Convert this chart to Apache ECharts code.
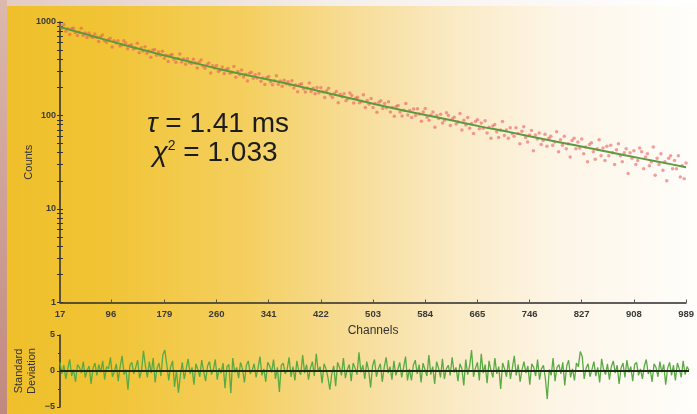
<!DOCTYPE html>
<html><head><meta charset="utf-8">
<style>html,body{margin:0;padding:0;background:#fff;}#c{width:697px;height:414px;}</style>
<script src="https://cdn.jsdelivr.net/npm/echarts@6.0.0/dist/echarts.min.js"></script>
</head><body><div id="c"></div>
<script>
// ---- data ----
const startChannel = 17;
const channelStep = 3;
const counts = [
927,857,940,794,849,734,846,859,771,719,779,856,718,762,681,763,706,
683,744,687,619,695,727,636,606,645,670,540,629,598,631,553,567,630,
598,518,562,572,514,526,593,468,529,491,542,462,491,421,499,509,442,
478,442,486,410,440,378,440,449,400,371,408,454,373,401,354,405,372,
359,399,364,323,372,393,339,321,347,364,284,340,322,343,296,306,
331,282,311,318,283,291,334,257,296,273,307,258,277,234,283,291,250,
273,252,280,233,252,215,254,261,230,213,236,266,216,234,205,238,218,
230,212,235,197,212,180,213,218,193,178,197,222,181,196,171,199,
175,198,179,156,184,196,166,156,171,181,137,169,159,171,144,151,174,
164,136,153,157,137,142,167,122,145,132,152,122,134,108,139,144,119,
134,121,140,109,122,98,125,128,109,99,114,134,101,113,95,117,
100,118,104,87,109,119,96,89,101,109,75,100,93,103,83,89,107,
100,78,92,96,81,85,105,70,89,79,95,73,82,64,86,90,72,
83,73,88,65,75,57,77,80,67,58,70,86,61,70,57,74,64,
60,74,64,50,68,76,58,52,62,69,42,62,56,65,49,54,
63,47,57,60,48,52,67,41,55,48,60,44,50,36,54,57,44,
52,45,56,39,46,32,49,51,41,34,44,55,37,45,33,47,
37,48,40,30,43,50,37,32,40,44,24,40,35,42,30,33,45,
41,27,36,39,29,32,46,23,35,30,39,26,32,20,35,37,27,
33,27,37,22,29,21,31
];
const fitChannels = [17,67,117,167,217,267,317,367,417,467,517,567,617,667,717,767,817,867,917,967,989];
const fitCounts   = [885,708,567,461,378,311,262,221,184,153,127,107,91,77,66,56,48,41,35,30,28];
const residuals = [
1.2,-0.4,0.8,-1.1,0.3,1.6,-0.7,0.2,-1.5,0.9,0.5,-0.3,1.3,-0.9,0.1,0.7,-1.8,0.4,1.1,-0.6,0.9,-0.2,1.4,-1.2,0.6,
0.3,1.9,-0.8,-0.1,1.0,-1.4,0.6,2.1,-0.5,0.2,-2.6,0.8,1.2,-0.4,0.5,1.5,-1.0,0.0,2.8,0.7,-0.9,1.3,-0.3,1.8,-1.6,
0.4,1.1,-0.7,2.3,2.9,0.9,-1.3,0.6,1.4,-2.2,0.1,-3.0,-0.6,1.2,-1.1,0.3,1.7,-0.4,0.5,-1.9,1.0,0.2,-0.8,1.5,-0.1,
-1.4,0.7,1.3,-0.5,0.2,1.6,-1.2,0.4,-0.3,1.1,-2.4,0.6,0.9,-3.1,1.8,-0.2,0.5,-1.0,1.2,0.3,-1.6,0.8,1.4,-0.4,0.1,
1.0,-0.9,0.4,2.0,-0.6,0.3,-1.5,1.2,0.7,-0.2,1.6,-1.1,0.5,-2.9,0.8,1.1,-0.4,0.2,1.9,-0.8,0.6,-1.3,1.4,0.0,-0.5,
2.2,-0.3,0.9,-1.2,0.4,1.3,-0.7,2.4,-0.1,0.6,-1.7,1.0,0.3,-0.9,-2.6,-0.4,0.7,-2.1,1.2,0.5,-0.6,1.8,-1.0,0.2,0.9,
-1.4,1.1,0.4,-0.5,2.6,-0.2,0.8,-1.1,1.3,0.1,-2.3,0.7,1.6,-0.8,0.3,1.0,-1.5,0.5,1.9,-0.3,0.6,-1.2,1.4,-0.6,0.2,
1.2,-0.9,0.5,2.0,-1.3,0.3,-1.3,0.8,1.5,-0.4,0.9,-1.6,1.1,0.2,-0.7,2.2,-0.5,0.6,-1.8,1.3,0.4,-0.9,1.7,-1.1,0.3,
0.8,-0.6,1.9,-0.2,0.5,-1.4,1.0,0.3,-2.0,1.6,-0.5,0.7,2.9,-0.8,0.4,1.2,-1.3,2.4,-0.3,0.9,-1.7,1.4,0.1,-0.9,1.8,
-0.4,0.6,-2.5,1.1,0.3,-0.8,1.5,-1.1,0.4,2.1,-0.6,0.9,-1.5,0.2,1.3,-0.3,0.7,-1.9,1.0,0.5,-0.7,1.6,-1.2,0.3,0.8,
-1.0,-3.9,0.2,-0.6,1.8,-1.4,0.5,0.9,-0.4,1.2,-2.0,0.7,1.5,-0.9,0.3,-1.3,1.1,0.6,2.7,2.0,-1.1,0.4,1.0,-0.8,0.2,
1.3,-0.7,0.5,-1.6,1.7,0.2,-0.5,1.0,-1.2,0.6,1.4,-0.3,0.8,-1.8,0.4,1.1,-0.9,1.5,-0.2,0.6,-1.4,0.9,1.2,-0.6,0.3,
-1.1,0.7,1.6,-0.4,0.2,-1.5,1.0,0.5,-0.8,1.3,-0.2,0.9,-1.9,0.4,1.2,-0.6,0.8,-1.3,1.1,0.3,-0.9,1.4,-0.5,0.6,0.1
];
const xTickLabels = [17,96,179,260,341,422,503,584,665,746,827,908,989];
const yTickLabels = [1,10,100,1000];
const residualTicks = [-5,0,5];

// ---- chart ----
const FONT = '"Liberation Sans", Arial, sans-serif';
const chart = echarts.init(document.getElementById('c'));
const minorTicks = [];
for (const d of [1,10,100]) for (let k = 1; k < 10; k++) minorTicks.push(d * k);
minorTicks.push(1000);

const scatterData = counts.map((c, i) => [startChannel + channelStep * i, c]);
const fitData = fitChannels.map((ch, i) => [ch, fitCounts[i]]);
const residData = residuals.map((r, i) => [startChannel + channelStep * i, r]);
const LG = echarts.graphic.LinearGradient;

const option = {
  animation: false,
  backgroundColor: '#ffffff',
  graphic: [
    {type:'rect', z:-10, silent:true, shape:{x:0,y:0,width:697,height:414},
     style:{fill:new LG(0,0,1,0,[
       {offset:0,color:'#efbf2a'},{offset:0.15,color:'#f1c435'},{offset:0.35,color:'#f4cf5e'},
       {offset:0.5,color:'#f7dc95'},{offset:0.65,color:'#faeac4'},{offset:0.8,color:'#fdf5e6'},{offset:1,color:'#fffefb'}])}},
    {type:'rect', z:-9, silent:true, shape:{x:0,y:0,width:697,height:6},
     style:{fill:new LG(0,0,1,0,[{offset:0,color:'#e2cbc2'},{offset:0.5,color:'#f6f0ec'},{offset:1,color:'#ffffff'}])}},
    {type:'rect', z:-9, silent:true, shape:{x:0,y:0,width:7,height:414},
     style:{fill:new LG(0,0,0,1,[{offset:0,color:'#dcb8ad'},{offset:1,color:'#c0897f'}])}},
    {type:'text', z:10, x:218, y:124, silent:true,
     style:{text:'{i|τ} = 1.41 ms', fontSize:28, fontFamily:FONT, fill:'#1c1c1c',
            align:'center', verticalAlign:'middle', textAlign:'center', textVerticalAlign:'middle',
            rich:{i:{fontStyle:'italic', fontSize:28, fontFamily:FONT, fill:'#1c1c1c'}}}},
    {type:'text', z:10, x:215, y:153, silent:true,
     style:{text:'{i|χ}{s|2} = 1.033', fontSize:28, fontFamily:FONT, fill:'#1c1c1c',
            align:'center', verticalAlign:'middle', textAlign:'center', textVerticalAlign:'middle',
            rich:{i:{fontStyle:'italic', fontSize:28, fontFamily:FONT, fill:'#1c1c1c'},
                  s:{fontSize:14, fontFamily:FONT, fill:'#1c1c1c', verticalAlign:'top'}}}}
  ],
  grid: [
    {left:60, right:8, top:22, height:280.5},
    {left:60, right:8, top:335, height:72}
  ],
  xAxis: [
    {gridIndex:0, type:'value', min:17, max:989,
     axisLine:{lineStyle:{color:'#2b2b2b', width:1.5}},
     axisTick:{customValues:xTickLabels, inside:true, length:3, lineStyle:{color:'#555'}},
     axisLabel:{customValues:xTickLabels, fontSize:9.5, fontWeight:'bold', color:'#3a3a3a', fontFamily:FONT, margin:7},
     splitLine:{show:false},
     name:'Channels', nameLocation:'middle', nameGap:22, nameMoveOverlap:false,
     nameTextStyle:{fontSize:12, color:'#333', fontFamily:FONT}},
    {gridIndex:1, type:'value', min:17, max:989,
     axisLine:{show:false}, axisTick:{show:false}, axisLabel:{show:false}, splitLine:{show:false}}
  ],
  yAxis: [
    {gridIndex:0, type:'log', logBase:10, min:1, max:1000, position:'left',
     axisLine:{show:true, lineStyle:{color:'#2b2b2b', width:1.5}},
     axisTick:{customValues:minorTicks, length:3, lineStyle:{color:'#333'}},
     axisLabel:{customValues:yTickLabels, fontSize:9, fontWeight:'bold', color:'#3a3a3a', fontFamily:FONT, margin:4,
                formatter:v => String(v)},
     splitLine:{show:false},
     name:'Counts', nameLocation:'middle', nameGap:26, nameMoveOverlap:false,
     nameTextStyle:{fontSize:11, color:'#333', fontFamily:FONT}},
    {gridIndex:1, type:'value', min:-5, max:5, interval:5, position:'left',
     axisLine:{show:true, lineStyle:{color:'#2b2b2b', width:1.5}},
     axisTick:{length:3, lineStyle:{color:'#333'}},
     minorTick:{show:true, splitNumber:2, length:2, lineStyle:{color:'#333'}},
     axisLabel:{customValues:residualTicks, fontSize:9, fontWeight:'bold', color:'#3a3a3a', fontFamily:FONT, margin:5,
                formatter:v => v < 0 ? '\u2212' + (-v) : String(v)},
     splitLine:{show:false},
     name:'Standard\nDeviation', nameLocation:'middle', nameGap:22, nameMoveOverlap:false,
     nameTextStyle:{fontSize:11, lineHeight:13, color:'#333', fontFamily:FONT}},
    {gridIndex:0, type:'log', logBase:10, min:1, max:1000, position:'left', offset:0,
     axisLine:{show:false},
     axisTick:{customValues:minorTicks, inside:true, length:3, lineStyle:{color:'#333'}},
     axisLabel:{show:false}, splitLine:{show:false}}
  ],
  series: [
    {type:'scatter', xAxisIndex:0, yAxisIndex:0, symbolSize:3.5, z:2,
     itemStyle:{color:'rgba(234,88,92,0.72)'}, data:scatterData},
    {type:'line', xAxisIndex:0, yAxisIndex:0, smooth:true, showSymbol:false, z:3,
     lineStyle:{color:'#5b9a3e', width:2}, data:fitData},
    {type:'line', xAxisIndex:1, yAxisIndex:1, showSymbol:false, z:2,
     lineStyle:{color:'#59aa45', width:1.3}, data:residData,
     markLine:{silent:true, symbol:'none', label:{show:false},
               lineStyle:{color:'#1f2a18', width:2, type:'solid'}, data:[{yAxis:0}]}}
  ]
};
chart.setOption(option);
</script>
</body></html>
